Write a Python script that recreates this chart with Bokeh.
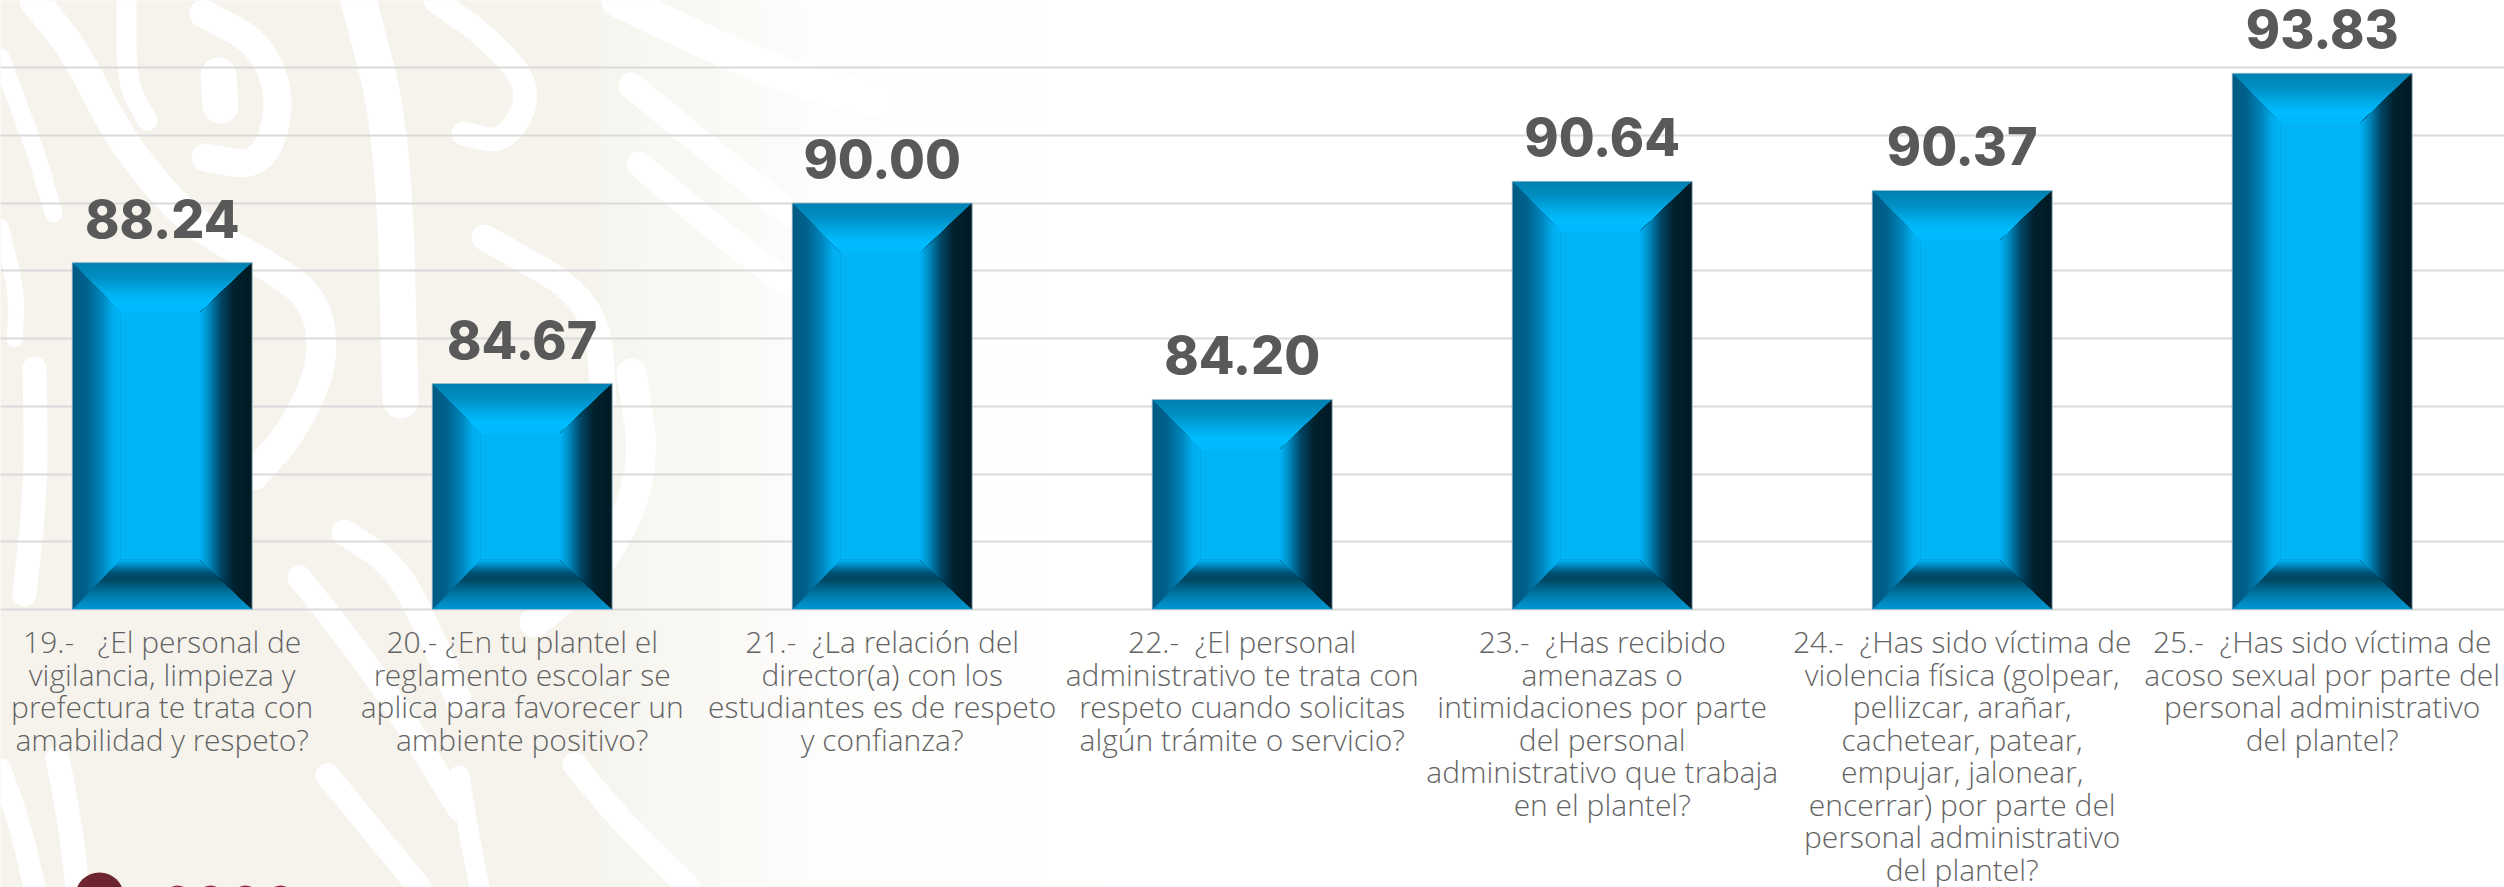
from bokeh.plotting import figure
from bokeh.models import ColumnDataSource, SingleIntervalTicker
from bokeh.core.properties import value
from bokeh.embed import file_html
from bokeh.resources import INLINE

# ---------- data ----------
question_lines = [
    ["19.-\u00a0\u00a0 ¿El personal de", "vigilancia, limpieza y", "prefectura te trata con", "amabilidad y respeto?"],
    ["20.- ¿En tu plantel el", "reglamento escolar se", "aplica para favorecer un", "ambiente positivo?"],
    ["21.-\u00a0 ¿La relación del", "director(a) con los", "estudiantes es de respeto", "y confianza?"],
    ["22.-\u00a0 ¿El personal", "administrativo te trata con", "respeto cuando solicitas", "algún trámite o servicio?"],
    ["23.-\u00a0 ¿Has recibido", "amenazas o", "intimidaciones por parte", "del personal", "administrativo que trabaja", "en el plantel?"],
    ["24.-\u00a0 ¿Has sido víctima de", "violencia física (golpear,", "pellizcar, arañar,", "cachetear, patear,", "empujar, jalonear,", "encerrar) por parte del", "personal administrativo", "del plantel?"],
    ["25.-\u00a0 ¿Has sido víctima de", "acoso sexual por parte del", "personal administrativo", "del plantel?"],
]
scores = [88.24, 84.67, 90.00, 84.20, 90.64, 90.37, 93.83]
score_labels = ["88.24", "84.67", "90.00", "84.20", "90.64", "90.37", "93.83"]

# ---------- page geometry (reference pixels) ----------
W, H = 2504, 887
X0, DX = 161.7, 360.0      # centre of first bar, category pitch
Y78, DY = 609.0, 33.875    # pixel of y=78, pixels per unit
BASE = 78
def ux(px): return (px - X0) / DX
def uy(py): return BASE + (Y78 - py) / DY

p = figure(width=W, height=H, output_backend="svg", toolbar_location=None,
           x_range=(ux(0), ux(W)), y_range=(uy(H), uy(0)),
           min_border=0, tools="")
p.outline_line_color = None
p.background_fill_color = "#ffffff"
p.border_fill_color = "#ffffff"
p.xaxis.visible = False
p.yaxis.visible = False
p.xgrid.visible = False
p.ygrid.ticker = SingleIntervalTicker(interval=2)
p.ygrid.bounds = (78, 94)
p.ygrid.grid_line_color = "#dadada"
p.ygrid.grid_line_width = 2

# ---------- ornamental background ----------
def lerp_hex(c1, c2, t):
    a = [int(c1[i:i+2], 16) for i in (1, 3, 5)]
    b = [int(c2[i:i+2], 16) for i in (1, 3, 5)]
    return "#%02x%02x%02x" % tuple(round(a[k] + (b[k] - a[k]) * t) for k in range(3))

fade_edges = [(1100, .03), (1040, .06), (960, .12), (880, .2), (800, .3), (760, .42), (720, .55), (680, .7), (640, .85), (600, 1.0)]
for edge, strength in fade_edges:
    p.quad(left=ux(0), right=ux(edge), bottom=uy(900), top=uy(0), level="image",
           fill_color=lerp_hex("#ffffff", "#f6f3ed", strength), line_color=None)

def smooth(pts, rounds=3):
    for _ in range(rounds):
        out = [pts[0]]
        for a, b in zip(pts, pts[1:]):
            out.append((a[0] * .75 + b[0] * .25, a[1] * .75 + b[1] * .25))
            out.append((a[0] * .25 + b[0] * .75, a[1] * .25 + b[1] * .75))
        out.append(pts[-1])
        pts = out
    return pts

# ornament strokes: (x pixels, y pixels, width)
strokes = [
    ([34, 75, 109, 143, 195, 270, 316, 324, 293, 253], [0, 51, 119, 170, 226, 266, 300, 362, 430, 475], 30),
    ([203, 260, 282, 262, 205], [13, 43, 100, 167, 157], 28),
    ([218, 220], [75, 105], 36),
    ([0, 35, 53], [57, 150, 213], 18),
    ([126, 126, 147], [0, 83, 120], 20),
    ([358, 393, 400], [0, 133, 400], 36),
    ([435, 491, 533, 505, 463], [0, 40, 90, 143, 133], 24),
    ([618, 772, 877], [0, 73, 100], 34),
    ([34, 36, 24], [368, 481, 594], 24),
    ([631, 706, 792], [85, 147, 215], 26),
    ([639, 706, 786], [164, 221, 283], 26),
    ([484, 596, 603], [237, 300, 400], 26),
    ([631, 646, 603, 534], [373, 470, 566, 622], 30),
    ([344, 396, 430, 459], [532, 566, 634, 701], 26),
    ([299, 379, 459], [577, 679, 809], 24),
    ([327, 373, 419], [775, 831, 887], 24),
    ([57, 69, 77], [758, 820, 887], 24),
    ([0, 20, 34], [769, 826, 887], 22),
    ([459, 468, 479], [775, 831, 887], 20),
    ([574, 620, 689], [764, 820, 887], 24),
    ([0, 17, 14], [226, 294, 339], 16),
]
for sx, sy, wd in strokes:
    pts = smooth(list(zip(sx, sy)))
    p.line([ux(a) for a, _ in pts], [uy(b) for _, b in pts], level="image",
           line_color="#ffffff", line_width=wd, line_cap="round", line_join="round")

# logo fragment at the bottom edge
p.ellipse(x=[ux(99)], y=[uy(895)], width=48 / DX, height=46 / DY, level="image",
          fill_color="#6e2431", line_color=None)
for cx in (177, 210, 245, 280):
    p.ellipse(x=[ux(cx)], y=[uy(897)], width=26 / DX, height=24 / DY, level="image",
              fill_color="#a3214e", line_color=None)

# ---------- bars ----------
FACE = "#00b4f6"
BAR_W = 180 / DX
BEV = dict(left=48 / DX, right=52 / DX, top=50 / DY, bottom=50 / DY)
STOPS = {
    "top":    [(0, "#0080b0"), (.3, "#008fc4"), (.6, "#00aeeb"), (.78, "#00bcff"), (1, "#00b8fb")],
    "left":   [(0, "#005a82"), (.3, "#00628e"), (.6, "#0084ba"), (.85, "#00aeee"), (1, "#00b4f6")],
    "right":  [(0, "#001a24"), (.35, "#00212d"), (.6, "#004664"), (.8, "#0082b4"), (1, "#00b4f6")],
    "bottom": [(0, "#0097d5"), (.3, "#0078a8"), (.6, "#00475f"), (.72, "#004e70"), (.87, "#0084ba"), (1, "#00b4f6")],
}
def ramp(stops, t):
    for (t0, c0), (t1, c1) in zip(stops, stops[1:]):
        if t <= t1:
            return lerp_hex(c0, c1, (t - t0) / (t1 - t0))
    return stops[-1][1]

p.vbar(x=list(range(len(scores))), top=scores, bottom=BASE, width=BAR_W, fill_color=FACE, line_color=None)

N = 34
xs_all, ys_all, cols = [], [], []
for i, v in enumerate(scores):
    L, R, T, B = i - BAR_W / 2, i + BAR_W / 2, v, BASE
    il, ir, it, ib = L + BEV["left"], R - BEV["right"], T - BEV["top"], B + BEV["bottom"]
    for side in ("top", "bottom", "left", "right"):
        for k in range(N):
            t = k / N
            ol, or_, ot, ob = L + BEV["left"] * t, R - BEV["right"] * t, T - BEV["top"] * t, B + BEV["bottom"] * t
            if side == "top":
                xs, ys = [ol, or_, ir, il], [ot, ot, it, it]
            elif side == "bottom":
                xs, ys = [ol, or_, ir, il], [ob, ob, ib, ib]
            elif side == "left":
                xs, ys = [ol, il, il, ol], [ot, it, ib, ob]
            else:
                xs, ys = [or_, ir, ir, or_], [ot, it, ib, ob]
            xs_all.append(xs)
            ys_all.append(ys)
            cols.append(ramp(STOPS[side], (t + .5 / N)))
p.patches(xs_all, ys_all, fill_color=cols, line_color=None)

p.vbar(x=list(range(len(scores))), top=scores, bottom=BASE, width=BAR_W,
       fill_color=None, line_color="#b4c2c9", line_width=1, line_alpha=0.8)

# ---------- value labels ----------
p.text(x=list(range(len(scores))), y=scores, text=score_labels, y_offset=-44,
       text_align="center", text_baseline="alphabetic",
       text_font=value("Inter ExtraBold"), text_font_style="bold", text_font_size="52px", text_color="#595959")

# ---------- question labels ----------
qx, qy, qt, qo = [], [], [], []
for i, lines in enumerate(question_lines):
    for j, s in enumerate(lines):
        qx.append(i)
        qy.append(BASE)
        qt.append(s)
        qo.append(32 + 32.55 * j)
src = ColumnDataSource(dict(x=qx, y=qy, text=qt, off=qo))
p.text(x="x", y="y", text="text", y_offset="off", source=src,
       text_align="center", text_baseline="alphabetic",
       text_font=value("Open Sans Light"), text_font_size="30px", text_color="#636363")

open("out.html", "w").write(file_html(p, INLINE))
